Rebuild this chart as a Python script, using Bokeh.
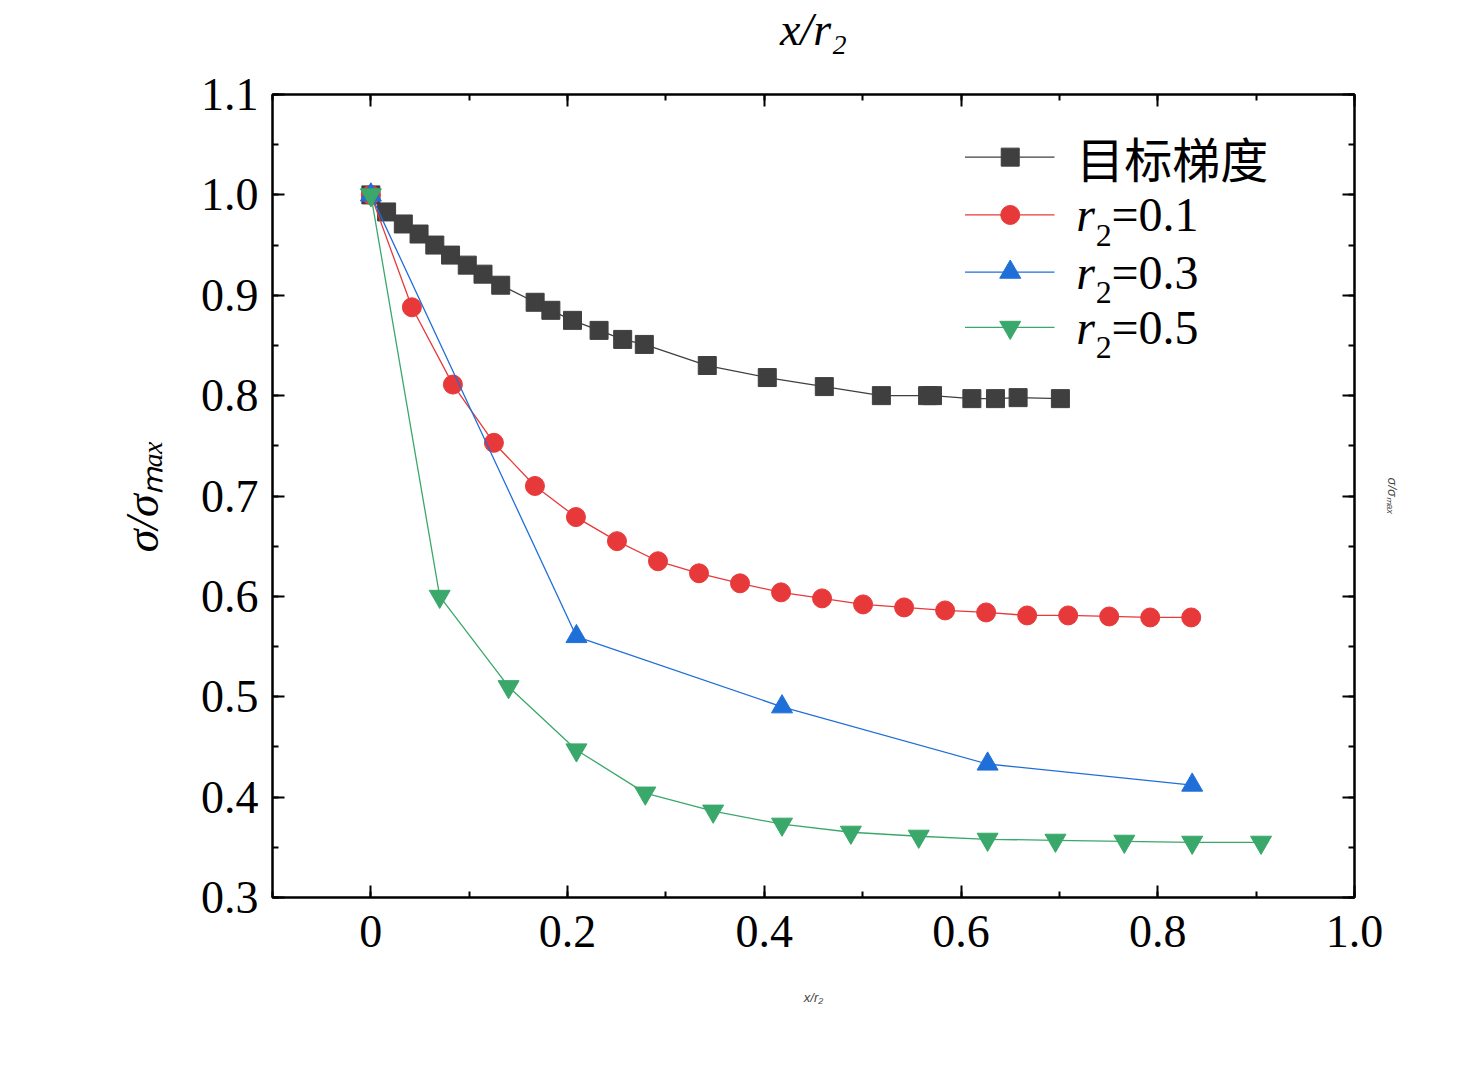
from bokeh.plotting import figure
from bokeh.models import Range1d, LinearAxis, FixedTicker, CustomJSTickFormatter
from bokeh.core.properties import value
from bokeh.embed import file_html
from bokeh.resources import INLINE

x_target = [0, 0.016, 0.033, 0.049, 0.065, 0.081, 0.098, 0.114, 0.132, 0.167, 0.183, 0.205, 0.232, 0.256,
            0.278, 0.342, 0.403, 0.461, 0.519, 0.566, 0.571, 0.611, 0.635, 0.658, 0.701]
y_target = [1.0, 0.983, 0.971, 0.961, 0.950, 0.940, 0.930, 0.921, 0.910, 0.893, 0.885, 0.875, 0.865, 0.856,
            0.851, 0.830, 0.818, 0.809, 0.800, 0.800, 0.800, 0.797, 0.797, 0.798, 0.797]
x_r01 = [i * 0.0417 for i in range(21)]
y_r01 = [1.0, 0.888, 0.811, 0.753, 0.710, 0.679, 0.655, 0.635, 0.623, 0.613, 0.604, 0.598, 0.592, 0.589,
         0.586, 0.584, 0.581, 0.581, 0.580, 0.579, 0.579]
x_r03 = [0, 0.209, 0.418, 0.627, 0.835]
y_r03 = [1.0, 0.560, 0.490, 0.433, 0.412]
x_r05 = [0, 0.070, 0.140, 0.209, 0.279, 0.348, 0.418, 0.488, 0.557, 0.627, 0.696, 0.766, 0.835, 0.905]
y_r05 = [1.0, 0.600, 0.510, 0.447, 0.404, 0.386, 0.373, 0.365, 0.361, 0.358, 0.357, 0.356, 0.355, 0.355]

legend_labels = ["目标梯度", "0.1", "0.3", "0.5"]
colors = ["#3f3f3f", "#e8393a", "#1f6fd8", "#3aa86a"]

SERIF = "Liberation Serif"
p = figure(width=1460, height=1054, output_backend="svg", toolbar_location=None,
           x_range=Range1d(-0.1, 1.0), y_range=Range1d(0.3, 1.1),
           min_border_left=272, min_border_right=106, min_border_top=28, min_border_bottom=157)
p.xgrid.visible = False
p.ygrid.visible = False
p.outline_line_color = "black"
p.outline_line_width = 2

xt = FixedTicker(ticks=[0, 0.2, 0.4, 0.6, 0.8, 1.0], minor_ticks=[-0.1 + 0.1 * i for i in range(12)])
yt = FixedTicker(ticks=[0.3 + 0.1 * i for i in range(9)], minor_ticks=[0.3 + 0.05 * i for i in range(17)])
fmt_x = CustomJSTickFormatter(code="return tick==0 ? '0' : tick.toFixed(1);")
fmt_y = CustomJSTickFormatter(code="return tick.toFixed(1);")

def style(ax):
    ax.major_tick_in = 12
    ax.major_tick_out = 0
    ax.minor_tick_in = 6
    ax.minor_tick_out = 0
    ax.axis_line_width = 2
    ax.major_tick_line_width = 2
    ax.minor_tick_line_width = 2
    ax.major_label_text_font = SERIF
    ax.major_label_text_font_size = "46px"
    ax.major_label_text_color = "black"
    ax.major_label_standoff = 14

p.xaxis.ticker = xt
p.xaxis.formatter = fmt_x
p.yaxis.ticker = yt
p.yaxis.formatter = fmt_y
style(p.xaxis[0]); style(p.yaxis[0])
p.xaxis.major_label_standoff = 18
for loc, tk in (("above", xt), ("right", yt)):
    ax = LinearAxis(ticker=tk)
    style(ax)
    ax.major_label_text_alpha = 0
    ax.major_label_text_font_size = "10px"
    p.add_layout(ax, loc)

series = [(x_target, y_target, "square"), (x_r01, y_r01, "circle"),
          (x_r03, y_r03, "triangle"), (x_r05, y_r05, "inverted_triangle")]
sizes = {"square": 18, "circle": 19, "triangle": 21, "inverted_triangle": 21}
for (xs, ys, m), c in zip(series, colors):
    p.line(xs, ys, line_color=c, line_width=1.3)
    p.scatter(xs, ys, marker=m, size=sizes[m], fill_color=c, line_color=c)

# legend
ly = [1.0376, 0.980, 0.923, 0.868]
for i, ((xs, ys, m), c) in enumerate(zip(series, colors)):
    p.line([0.604, 0.695], [ly[i], ly[i]], line_color=c, line_width=1.3)
    p.scatter([0.650], [ly[i]], marker=m, size=sizes[m], fill_color=c, line_color=c)
p.text([0.717], [ly[0]], text=[legend_labels[0]], text_font=value("Noto Sans CJK SC"),
       text_font_size="48px", text_baseline="middle", text_color="black")
for i in range(1, 4):
    p.text([0.717], [ly[i]], text=["r"], text_font=value(SERIF), text_font_style="italic",
           text_font_size="48px", text_baseline="middle", text_color="black")
    p.text([0.737], [ly[i] - 0.02], text=["2"], text_font=value(SERIF),
           text_font_size="32px", text_baseline="middle", text_color="black")
    p.text([0.753], [ly[i]], text=["=" + legend_labels[i]], text_font=value(SERIF),
           text_font_size="48px", text_baseline="middle", text_color="black")

# axis labels
p.xaxis.axis_label = "x/r₂"
p.yaxis.axis_label = "σ/σₘₐₓ"
for ax in (p.xaxis[0], p.yaxis[0]):
    ax.axis_label_text_font = SERIF
    ax.axis_label_text_font_style = "italic"
    ax.axis_label_text_font_size = "46px"
    ax.axis_label_text_color = "black"
p.xaxis.axis_label_standoff = 40
p.yaxis.axis_label_standoff = 30

open("out.html", "w").write(file_html(p, INLINE))
